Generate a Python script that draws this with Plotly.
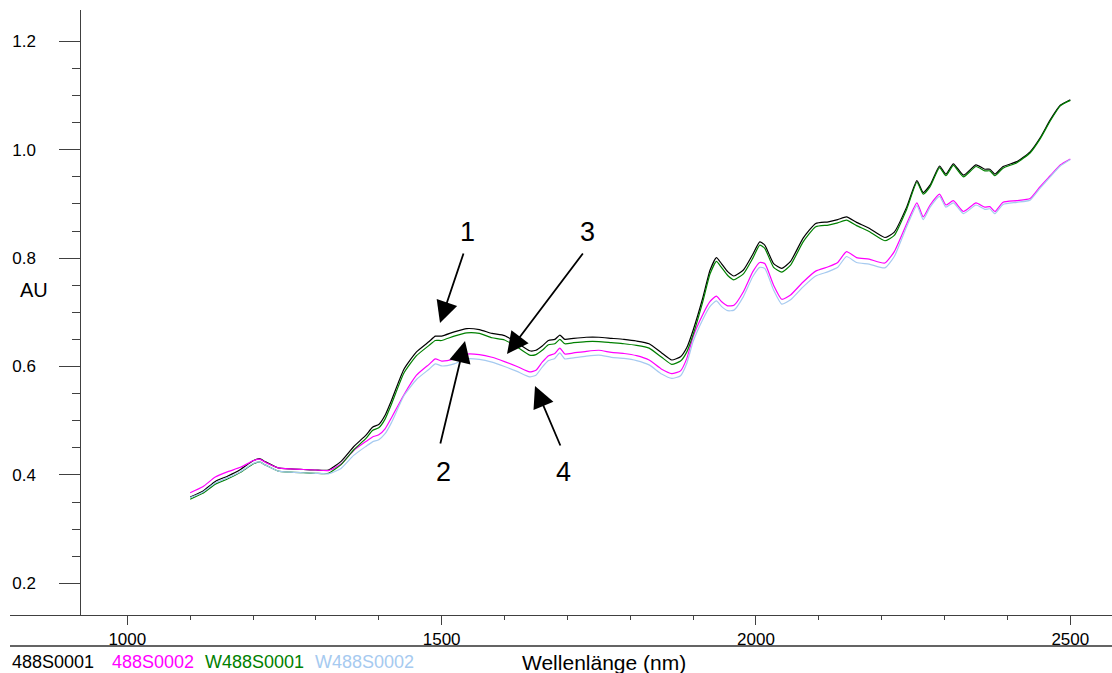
import plotly.graph_objects as go

# ---------------- data ----------------
wavelength = [1100, 1120, 1140, 1160, 1180, 1200, 1210, 1220, 1240, 1260,
              1280, 1300, 1320, 1340, 1360, 1380, 1390, 1400, 1410, 1420,
              1440, 1460, 1480, 1490, 1500, 1520, 1540, 1560, 1580, 1600,
              1620, 1640, 1650, 1660, 1670, 1680, 1688, 1696, 1710, 1730,
              1750, 1770, 1790, 1810, 1830, 1850, 1866, 1880, 1890, 1900,
              1915, 1927, 1937, 1945, 1955, 1965, 1980, 1995, 2006, 2014,
              2028, 2041, 2055, 2075, 2095, 2115, 2130, 2144, 2160, 2180,
              2205, 2220, 2240, 2256, 2266, 2277, 2292, 2302, 2314, 2330,
              2350, 2364, 2372, 2380, 2393, 2415, 2436, 2452, 2468, 2484,
              2500]

s488S0001 = [0.359, 0.370, 0.388, 0.398, 0.410, 0.426, 0.430, 0.424, 0.413, 0.411,
             0.410, 0.409, 0.409, 0.425, 0.452, 0.474, 0.488, 0.493, 0.510, 0.537,
             0.595, 0.627, 0.646, 0.656, 0.656, 0.664, 0.670, 0.668, 0.661, 0.657,
             0.644, 0.629, 0.630, 0.638, 0.648, 0.650, 0.658, 0.650, 0.652, 0.654,
             0.654, 0.652, 0.650, 0.647, 0.642, 0.625, 0.612, 0.618, 0.635, 0.667,
             0.725, 0.778, 0.801, 0.790, 0.775, 0.767, 0.778, 0.807, 0.830, 0.824,
             0.790, 0.781, 0.794, 0.837, 0.864, 0.867, 0.871, 0.876, 0.866, 0.855,
             0.838, 0.848, 0.895, 0.943, 0.921, 0.935, 0.970, 0.955, 0.974, 0.953,
             0.972, 0.964, 0.964, 0.955, 0.969, 0.978, 0.996, 1.022, 1.055, 1.082,
             1.092]

s488S0002 = [0.367, 0.378, 0.396, 0.406, 0.414, 0.426, 0.429, 0.423, 0.413, 0.411,
             0.410, 0.409, 0.408, 0.420, 0.445, 0.462, 0.470, 0.474, 0.485, 0.505,
             0.548, 0.584, 0.604, 0.614, 0.610, 0.614, 0.623, 0.622, 0.617, 0.609,
             0.600, 0.590, 0.593, 0.608, 0.620, 0.624, 0.634, 0.623, 0.625, 0.628,
             0.630, 0.626, 0.624, 0.620, 0.612, 0.595, 0.587, 0.592, 0.615, 0.655,
             0.695, 0.720, 0.730, 0.720, 0.712, 0.713, 0.738, 0.775, 0.792, 0.790,
             0.750, 0.724, 0.732, 0.756, 0.776, 0.784, 0.792, 0.812, 0.801, 0.798,
             0.791, 0.812, 0.864, 0.902, 0.876, 0.898, 0.918, 0.898, 0.906, 0.886,
             0.902, 0.894, 0.895, 0.886, 0.903, 0.906, 0.910, 0.932, 0.952, 0.972,
             0.983]

sW488S0001 = [0.355, 0.366, 0.383, 0.393, 0.405, 0.420, 0.424, 0.418, 0.407, 0.405,
              0.404, 0.403, 0.403, 0.419, 0.446, 0.468, 0.482, 0.487, 0.503, 0.530,
              0.588, 0.620, 0.639, 0.648, 0.648, 0.656, 0.662, 0.661, 0.653, 0.649,
              0.636, 0.621, 0.622, 0.630, 0.640, 0.642, 0.650, 0.642, 0.644, 0.646,
              0.646, 0.644, 0.642, 0.639, 0.634, 0.617, 0.604, 0.610, 0.627, 0.659,
              0.718, 0.771, 0.794, 0.783, 0.768, 0.760, 0.771, 0.800, 0.824, 0.818,
              0.783, 0.774, 0.787, 0.830, 0.858, 0.861, 0.865, 0.870, 0.860, 0.849,
              0.832, 0.842, 0.891, 0.940, 0.918, 0.932, 0.967, 0.952, 0.971, 0.950,
              0.969, 0.961, 0.961, 0.952, 0.966, 0.976, 0.994, 1.020, 1.053, 1.081,
              1.091]

sW488S0002 = [0.358, 0.368, 0.385, 0.395, 0.406, 0.421, 0.424, 0.418, 0.407, 0.405,
              0.404, 0.403, 0.402, 0.412, 0.436, 0.453, 0.461, 0.465, 0.476, 0.496,
              0.546, 0.576, 0.595, 0.605, 0.601, 0.605, 0.614, 0.613, 0.608, 0.600,
              0.591, 0.581, 0.584, 0.599, 0.611, 0.615, 0.625, 0.614, 0.616, 0.619,
              0.621, 0.617, 0.615, 0.611, 0.603, 0.586, 0.578, 0.583, 0.606, 0.646,
              0.686, 0.711, 0.721, 0.711, 0.703, 0.704, 0.729, 0.766, 0.783, 0.781,
              0.741, 0.715, 0.723, 0.747, 0.767, 0.775, 0.783, 0.803, 0.792, 0.789,
              0.782, 0.803, 0.859, 0.897, 0.871, 0.894, 0.914, 0.894, 0.902, 0.882,
              0.898, 0.890, 0.891, 0.882, 0.899, 0.903, 0.907, 0.929, 0.950, 0.970,
              0.982]

series_names = ["488S0001", "488S0002", "W488S0001", "W488S0002"]
series_values = [s488S0001, s488S0002, sW488S0001, sW488S0002]
series_colors = ["#000000", "#ff00ff", "#008000", "#a6caf0"]

x_ticks = [1000, 1500, 2000, 2500]
x_minor = [1100, 1200, 1300, 1400, 1600, 1700, 1800, 1900,
           2100, 2200, 2300, 2400]
y_ticks = [0.2, 0.4, 0.6, 0.8, 1.0, 1.2]
y_minor = [0.25, 0.3, 0.35, 0.45, 0.5, 0.55, 0.65, 0.7, 0.75,
           0.85, 0.9, 0.95, 1.05, 1.1, 1.15]

FONT = "Liberation Sans, Arial, sans-serif"

# ---------------- geometry (pixels) ----------------
W, H = 1112, 673
ML, MR, MT, MB = 10, 0, 10, 58
PW, PH = W - ML - MR, H - MT - MB


def px(xp):
    return (xp - ML) / PW


def py(yp):
    return (H - MB - yp) / PH


fig = go.Figure()
for name, vals, col in zip(series_names, series_values, series_colors):
    fig.add_trace(go.Scatter(
        x=wavelength, y=vals, mode="lines", name=name,
        line=dict(color=col, width=1.2, shape="spline", smoothing=0.5),
        hoverinfo="skip"))

fig.update_layout(
    width=W, height=H,
    margin=dict(l=ML, r=MR, t=MT, b=MB, pad=0),
    paper_bgcolor="white", plot_bgcolor="white",
    showlegend=False,
    font=dict(family=FONT, color="#000000", size=17),
    xaxis=dict(
        range=[813.4, 2566.3], showgrid=False, zeroline=False,
        showline=True, linecolor="#404040", linewidth=1,
        ticks="outside", ticklen=9, tickwidth=1, tickcolor="#404040",
        tickvals=x_ticks, ticktext=[str(v) for v in x_ticks],
        tickfont=dict(size=17, family=FONT),
        minor=dict(tickvals=x_minor, ticks="outside", ticklen=4,
                   tickcolor="#404040", showgrid=False),
        automargin=False,
    ),
    yaxis=dict(
        range=[0.1415, 1.2578], showgrid=False, zeroline=False,
        anchor="free", position=px(80.3),
        showline=True, linecolor="#404040", linewidth=1,
        ticks="outside", ticklen=21, tickwidth=1, tickcolor="#404040",
        tickvals=y_ticks, ticktext=["%.1f" % v for v in y_ticks],
        tickfont=dict(size=17, family=FONT),
        ticklabelstandoff=20,
        minor=dict(tickvals=y_minor, ticks="outside", ticklen=8,
                   tickcolor="#404040", showgrid=False),
        automargin=False,
    ),
)

# separator line under the axis labels
fig.add_shape(type="line", xref="paper", yref="paper",
              x0=0, x1=1, y0=py(646), y1=py(646),
              line=dict(color="#303030", width=1.5))

ann = []
# y-axis title
ann.append(dict(text="AU", x=px(34), y=py(290), xref="paper", yref="paper",
                xanchor="center", yanchor="middle",
                showarrow=False, font=dict(size=20, family=FONT)))
# x-axis title
ann.append(dict(text="Wellenlänge (nm)", x=px(520), y=py(662), xref="paper", yref="paper",
                xanchor="left", yanchor="middle", showarrow=False,
                font=dict(size=21, family=FONT)))
# legend as coloured text
legend_x = [10, 110, 203, 313]
for name, col, lx in zip(series_names, series_colors, legend_x):
    ann.append(dict(text=name, x=px(lx), y=py(662), xref="paper", yref="paper",
                    xanchor="left", yanchor="middle", showarrow=False,
                    font=dict(size=18, family=FONT, color=col)))

# numbered labels and arrows
labels = [("1", 467, 232), ("3", 587, 232), ("2", 443, 472), ("4", 563, 472)]
for t, lx, ly in labels:
    ann.append(dict(text=t, x=px(lx), y=py(ly), xref="paper", yref="paper",
                    xanchor="center", yanchor="middle",
                    showarrow=False, font=dict(size=27, family=FONT)))

arrows = [((440, 323), (464, 252)),
          ((507, 354), (584, 252)),
          ((465, 341), (440, 445)),
          ((535, 386), (561, 447))]
for (tx, ty), (sx, sy) in arrows:
    ann.append(dict(text="", x=px(tx), y=py(ty), xref="paper", yref="paper",
                    ax=sx - tx, ay=sy - ty, showarrow=True,
                    arrowhead=2, arrowsize=2.4, arrowwidth=1.8, arrowcolor="#000000"))

fig.update_layout(annotations=ann)

fig.write_html("out.html")
